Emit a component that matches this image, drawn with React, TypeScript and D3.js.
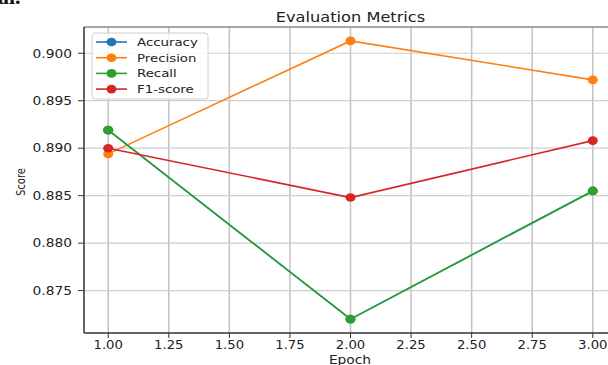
import React from "react";
import * as d3 from "d3";

const epochs = [1, 2, 3];
const accuracy = [0.8919, 0.872, 0.8855];
const precision = [0.8894, 0.9013, 0.8972];
const recall = [0.8919, 0.872, 0.8855];
const f1 = [0.89, 0.8848, 0.8908];

const xTicks = [1, 1.25, 1.5, 1.75, 2, 2.25, 2.5, 2.75, 3];
const yTicks = [0.875, 0.88, 0.885, 0.89, 0.895, 0.9];

const series = [
  { name: "Accuracy", values: accuracy, color: "#1f77b4" },
  { name: "Precision", values: precision, color: "#ff7f0e" },
  { name: "Recall", values: recall, color: "#2ca02c" },
  { name: "F1-score", values: f1, color: "#d62728" },
];

const W = 608;
const H = 365;
const SX = 1.15; // the picture is a bit wider than tall
const font = "DejaVu Sans, sans-serif";

export default function App() {
  const left = 84, right = 617, top = 27, bottom = 333;

  const all = series.flatMap((s) => s.values);
  const lo = d3.min(all)!, hi = d3.max(all)!;
  const pad = (hi - lo) * 0.05;
  const x = d3.scaleLinear().domain([0.9, 3.1]).range([left, right]);
  const y = d3.scaleLinear().domain([lo - pad, hi + pad]).range([bottom, top]);

  const line = d3
    .line<number>()
    .x((_, i) => x(epochs[i]))
    .y((d) => y(d));

  const fx = d3.format(".2f");
  const fy = d3.format(".3f");

  return (
    <svg
      width={W}
      height={H}
      style={{ position: "absolute", left: 0, top: 0, background: "#fff" }}
      fontFamily={font}
    >
      <text
        transform="translate(-2,4) scale(1.1,1)"
        fontFamily="Liberation Serif, serif"
        fontWeight="bold"
        fontSize={20}
        fill="#111"
      >
        al.
      </text>

      {/* grid */}
      {xTicks.map((t) => (
        <line key={"gx" + t} x1={x(t)} x2={x(t)} y1={top} y2={bottom} stroke="#c4c4c4" strokeWidth={1.6} />
      ))}
      {yTicks.map((t) => (
        <line key={"gy" + t} x1={left} x2={right} y1={y(t)} y2={y(t)} stroke="#cfcfcf" strokeWidth={1.2} />
      ))}

      {/* spines */}
      <line x1={left} x2={right} y1={top} y2={top} stroke="#8a8a8a" strokeWidth={1.5} />
      <line x1={left} x2={left} y1={top} y2={bottom} stroke="#111" strokeWidth={1.3} />
      <line x1={left} x2={right} y1={bottom} y2={bottom} stroke="#333" strokeWidth={1.3} />

      {/* ticks */}
      {xTicks.map((t) => (
        <g key={"tx" + t}>
          <line x1={x(t)} x2={x(t)} y1={bottom} y2={bottom + 5} stroke="#333" />
          <text
            transform={`translate(${x(t)},${bottom + 16}) scale(${SX},1)`}
            textAnchor="middle"
            fontSize={11.5}
            fill="#222"
          >
            {fx(t)}
          </text>
        </g>
      ))}
      {yTicks.map((t) => (
        <g key={"ty" + t}>
          <line x1={left - 6} x2={left} y1={y(t)} y2={y(t)} stroke="#333" />
          <text
            transform={`translate(${left - 12},${y(t) + 4.3}) scale(${SX},1)`}
            textAnchor="end"
            fontSize={12}
            fill="#222"
          >
            {fy(t)}
          </text>
        </g>
      ))}

      {/* labels */}
      <text
        transform={`translate(${(left + right) / 2},22) scale(1.2,1)`}
        textAnchor="middle"
        fontSize={13.5}
        fill="#222"
      >
        Evaluation Metrics
      </text>
      <text transform={`translate(350,364) scale(${SX},1)`} textAnchor="middle" fontSize={12} fill="#222">
        Epoch
      </text>
      <text
        transform={`translate(25,182) scale(${SX},1) rotate(-90)`}
        textAnchor="middle"
        fontSize={10}
        fill="#222"
      >
        Score
      </text>

      {/* series */}
      {series.map((s) => (
        <g key={s.name}>
          <path d={line(s.values)!} fill="none" stroke={s.color} strokeWidth={1.6} />
          {s.values.map((v, i) => (
            <ellipse key={i} cx={x(epochs[i])} cy={y(v)} rx={5} ry={4.3} fill={s.color} />
          ))}
        </g>
      ))}

      {/* legend */}
      <rect x={92} y={33} width={116} height={66} rx={3} fill="#fff" fillOpacity={0.8} stroke="#d0d0d0" />
      {series.map((s, i) => {
        const ly = 42 + i * 15.7;
        return (
          <g key={"lg" + s.name}>
            <line x1={96} x2={127} y1={ly} y2={ly} stroke={s.color} strokeWidth={1.6} />
            <ellipse cx={111.5} cy={ly} rx={5} ry={4.3} fill={s.color} />
            <text
              transform={`translate(137,${ly + 4}) scale(1.18,1)`}
              fontSize={11.3}
              fill="#222"
            >
              {s.name}
            </text>
          </g>
        );
      })}
    </svg>
  );
}
